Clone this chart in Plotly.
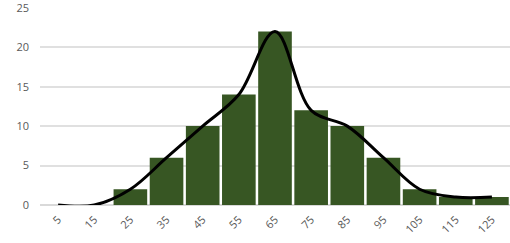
import plotly.graph_objects as go

categories = ["5", "15", "25", "35", "45", "55", "65", "75", "85", "95", "105", "115", "125"]
counts = [0, 0, 2, 6, 10, 14, 22, 12, 10, 6, 2, 1, 1]
curve = [0, 0, 2, 6, 10, 14, 22, 12, 10, 6, 2, 1, 1]
y_ticks = [0, 5, 10, 15, 20, 25]

fig = go.Figure()
fig.add_trace(go.Bar(x=categories, y=counts, marker=dict(color="#375623", line=dict(width=0)), showlegend=False))
fig.add_trace(go.Scatter(x=categories, y=curve, mode="lines",
                         line=dict(color="#000000", width=3, shape="spline", smoothing=1.0),
                         showlegend=False))

fig.update_layout(
    template="none",
    width=510, height=243,
    margin=dict(l=40, r=0, t=7, b=38),
    paper_bgcolor="white", plot_bgcolor="white",
    bargap=0.07,
    font=dict(family="Open Sans", size=10, color="#595959"),
    xaxis=dict(type="category", tickangle=-45, showgrid=False, showline=False, zeroline=False,
               ticks="outside", ticklen=3, tickcolor="rgba(0,0,0,0)",
               tickfont=dict(size=11, color="#595959")),
    yaxis=dict(range=[0, 25.1], tickvals=y_ticks, showgrid=True, gridcolor="#e0e0e0", gridwidth=1.5,
               zeroline=True, zerolinecolor="#d9d9d9", zerolinewidth=1.5, showline=False,
               ticks="", ticklabelstandoff=10, ticklabeloverflow="allow",
               tickfont=dict(size=11, color="#595959")),
)

fig.write_html("out.html")
